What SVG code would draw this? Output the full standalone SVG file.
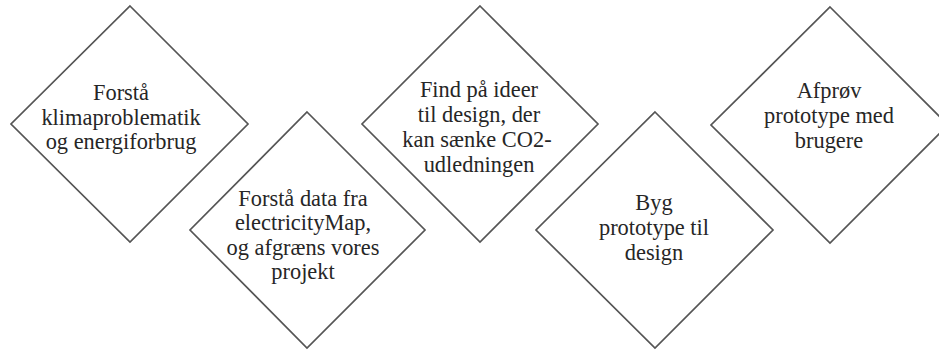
<svg xmlns="http://www.w3.org/2000/svg" width="939" height="351" viewBox="0 0 939 351">
<style>
.d{fill:#fff;stroke:#555;stroke-width:1.7}
.t{font-family:"Liberation Serif","Times New Roman",serif;font-size:22.4px;fill:#262626;text-anchor:middle}
</style>
<rect width="939" height="351" fill="#fff"/>
<g id="connectors"></g>
<g id="n1"><polygon class="d" points="130,6 248,124 130,242 11,124"/>
<text class="t" x="121" y="100">Forstå</text><text class="t" x="121" y="125">klimaproblematik</text><text class="t" x="121" y="149">og energiforbrug</text></g>
<g id="n2"><polygon class="d" points="307,112 425,230 307,348 190,230"/>
<text class="t" x="303" y="206">Forstå data fra</text><text class="t" x="303" y="230">electricityMap,</text><text class="t" x="303" y="255">og afgræns vores</text><text class="t" x="303" y="279">projekt</text></g>
<g id="n3"><polygon class="d" points="480,6 598,124 480,242 362,124"/>
<text class="t" x="479" y="97">Find på ideer</text><text class="t" x="479" y="122">til design, der</text><text class="t" x="477" y="147">kan sænke CO2-</text><text class="t" x="479" y="172">udledningen</text></g>
<g id="n4"><polygon class="d" points="655,112 773,230 655,348 536,230"/>
<text class="t" x="654" y="210">Byg</text><text class="t" x="654" y="235">prototype til</text><text class="t" x="654" y="260">design</text></g>
<g id="n5"><polygon class="d" points="830,7 948,125 830,243 711,125"/>
<text class="t" x="829" y="98">Afprøv</text><text class="t" x="829" y="123">prototype med</text><text class="t" x="829" y="148">brugere</text></g>
</svg>
